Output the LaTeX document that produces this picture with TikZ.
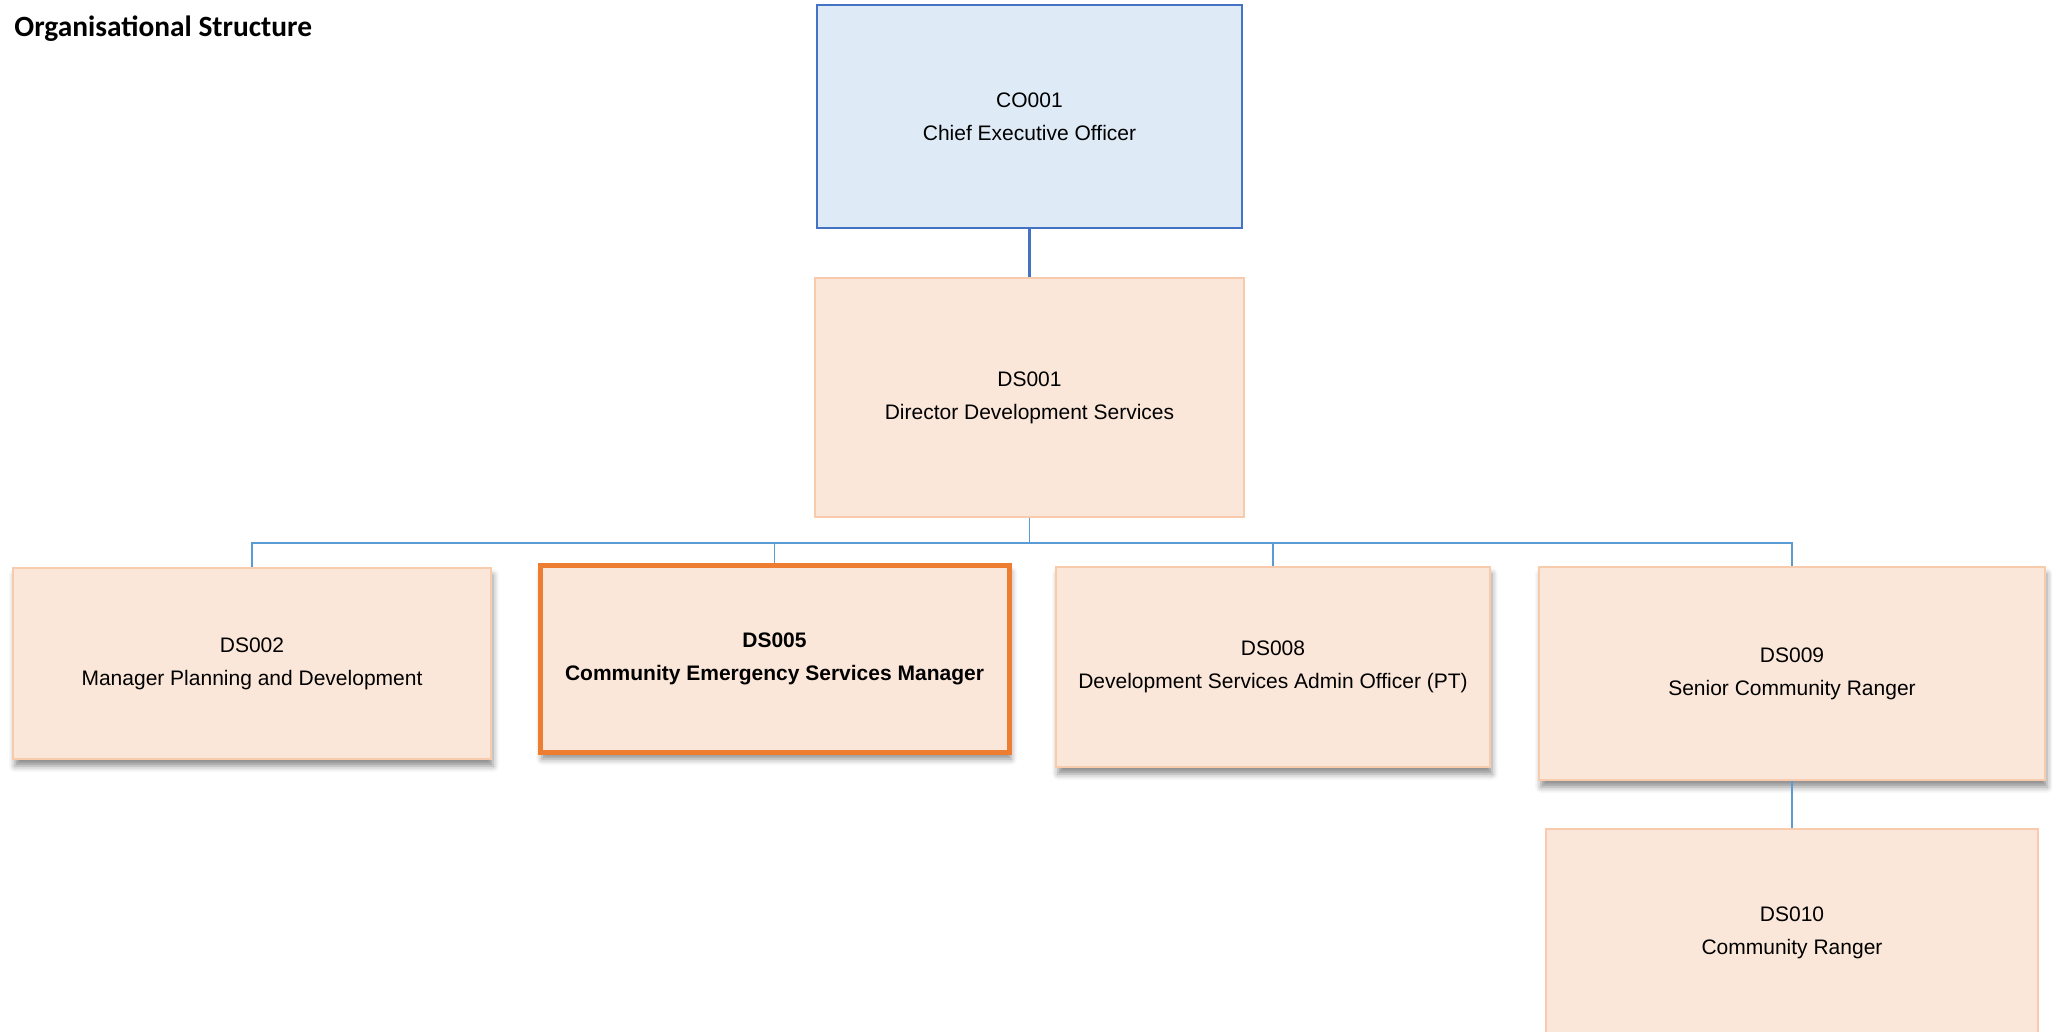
\documentclass[tikz,border=0pt]{standalone}
\usepackage{fontspec}
\setmainfont{Liberation Sans}
\newfontfamily\titlefont{Carlito}
\usetikzlibrary{positioning,shadows,shadows.blur}
\definecolor{ceoblue}{RGB}{68,114,196}
\definecolor{ceofill}{RGB}{222,234,246}
\definecolor{postfill}{RGB}{251,231,217}
\definecolor{postline}{RGB}{248,203,173}
\definecolor{hilite}{RGB}{237,125,49}
\definecolor{linkblue}{RGB}{91,155,213}
\tikzset{
  post/.style={draw=postline, line width=0.6pt, fill=postfill, align=center,
               inner sep=0pt, font=\fontsize{10.5}{16.5}\selectfont},
  ceo/.style={post, draw=ceoblue, line width=1pt, fill=ceofill},
  shad/.style={blur shadow={shadow xshift=1pt, shadow yshift=-3.5pt,
               shadow blur radius=3pt, shadow opacity=45}},
  hot/.style={draw=hilite, line width=2.5pt,
              font=\fontsize{10.5}{16.5}\selectfont\bfseries},
  link/.style={linkblue, line width=0.7pt},
  toplink/.style={ceoblue, line width=1.1pt},
  ttl/.style={font=\titlefont\fontsize{14.7}{17}\selectfont\bfseries, inner sep=0pt},
}

\begin{document}
\begin{tikzpicture}[x=0.5pt, y=-0.5pt]
  \useasboundingbox (0,0) rectangle (2052,1032);
  \node[ttl, anchor=base west] (title) at (14,37) {Organisational Structure};

  % top of the tree
  \node[ceo, minimum width=212.5pt, minimum height=111.5pt] (co001) at (1029.5,116.5)
       {CO001\\Chief Executive Officer};
  \node[post, minimum width=214.5pt, minimum height=119.5pt] (ds001) at (1029.5,397.5)
       {DS001\\Director Development Services};

  % second row
  \node[post, shad, minimum width=239pt, minimum height=95.5pt] (ds002) at (252,663.5)
       {DS002\\Manager Planning and Development};
  \node[post, shad, hot, minimum width=234.5pt, minimum height=93.5pt] (ds005) at (774.5,658.5)
       {DS005\\Community Emergency Services Manager};
  \node[post, shad, minimum width=217pt, minimum height=100pt] (ds008) at (1273,667)
       {DS008\\Development Services Admin Officer (PT)};
  \node[post, shad, minimum width=253pt, minimum height=106.5pt] (ds009) at (1792,673.5)
       {DS009\\Senior Community Ranger};
  \node[post, minimum width=246pt, minimum height=104pt] (ds010) at (1792,933)
       {DS010\\Community Ranger};

  \coordinate (bus) at (0,543);
  \draw[toplink] (co001.south) -- (ds001.north);
  \foreach \c in {ds002,ds005,ds008,ds009}
    \draw[link] (ds001.south) |- (bus -| \c.north) -- (\c.north);
  \draw[link] (ds009.south) -- (ds010.north);
\end{tikzpicture}
\end{document}
